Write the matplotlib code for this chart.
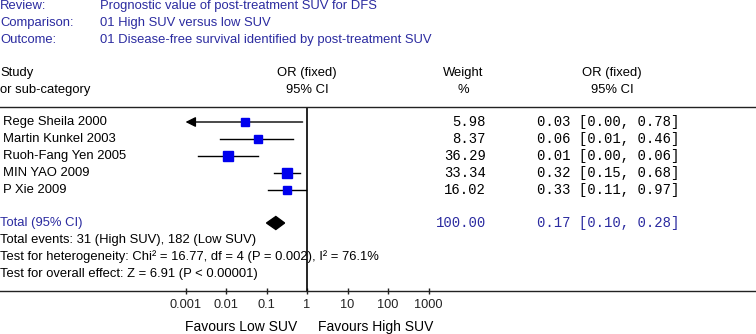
import numpy as np
import matplotlib
matplotlib.use("Agg")
import matplotlib.pyplot as plt
from matplotlib.patches import Polygon

# ----------------------------
# data
# ----------------------------
studies = ["Rege Sheila 2000", "Martin Kunkel 2003", "Ruoh-Fang Yen 2005",
           "MIN YAO 2009", "P Xie 2009"]
or_est = [0.03, 0.06, 0.011, 0.32, 0.33]
ci_low = [0.0004, 0.007, 0.002, 0.15, 0.11]
ci_high = [0.78, 0.46, 0.06, 0.68, 0.97]
weights = [5.98, 8.37, 36.29, 33.34, 16.02]
or_labels = ["0.03 [0.00, 0.78]", "0.06 [0.01, 0.46]", "0.01 [0.00, 0.06]",
             "0.32 [0.15, 0.68]", "0.33 [0.11, 0.97]"]

total_est, total_low, total_high = 0.17, 0.10, 0.28
total_weight = "100.00"
total_label = "0.17 [0.10, 0.28]"

ticks = [0.001, 0.01, 0.1, 1, 10, 100, 1000]
tick_labels = ["0.001", "0.01", "0.1", "1", "10", "100", "1000"]

header = [("Review:", "Prognostic value of post-treatment SUV for DFS"),
          ("Comparison:", "01 High SUV versus low SUV"),
          ("Outcome:", "01 Disease-free survival identified by post-treatment SUV")]
footer = ["Total events: 31 (High SUV), 182 (Low SUV)",
          "Test for heterogeneity: Chi\u00b2 = 16.77, df = 4 (P = 0.002), I\u00b2 = 76.1%",
          "Test for overall effect: Z = 6.91 (P < 0.00001)"]

# ----------------------------
# layout (pixels)
# ----------------------------
W, H = 756, 334
X_ONE = 307.0       # pixel of OR = 1
DECADE = 40.5       # pixels per decade
TOP_LINE, AXIS_LINE = 107, 291
ROW0, ROW_STEP = 122, 17
TOTAL_Y = 223
BLUE_TXT = "#2b2ba0"
SANS = "Liberation Sans"
MONO = "Liberation Mono"
FS = 9.4

fig = plt.figure(figsize=(W / 100, H / 100), dpi=100)

# forest axes covering full width, log x scale
ax = fig.add_axes([0, (H - AXIS_LINE) / H, 1, (AXIS_LINE - TOP_LINE) / H])
ax.set_xscale("log")
ax.set_xlim(10 ** ((0 - X_ONE) / DECADE), 10 ** ((W - X_ONE) / DECADE))
ax.set_ylim(AXIS_LINE, TOP_LINE)
ax.patch.set_visible(False)
for s in ["left", "right"]:
    ax.spines[s].set_visible(False)
for s in ["top", "bottom"]:
    ax.spines[s].set_linewidth(1.0)
    ax.spines[s].set_color("#222222")
ax.set_yticks([])
ax.set_xticks(ticks)
ax.set_xticklabels(tick_labels, fontsize=9.2, family=SANS)
ax.xaxis.set_minor_locator(matplotlib.ticker.NullLocator())
ax.tick_params(axis="x", direction="inout", length=5, width=1, pad=3,
               colors="#222222")

ax.axvline(1, color="black", lw=1.2)

xmin = min(ticks)
for i in range(len(studies)):
    y = ROW0 + ROW_STEP * i
    lo = ci_low[i]
    if lo < xmin:
        ax.annotate("", xy=(xmin, y), xytext=(ci_high[i], y),
                    arrowprops=dict(arrowstyle="-|>", color="black", lw=1,
                                    mutation_scale=15, shrinkA=0, shrinkB=0))
    else:
        ax.plot([lo, ci_high[i]], [y, y], color="black", lw=1)
    side = 6.5 + weights[i] * 0.1
    ax.plot([or_est[i]], [y], marker="s", ms=side * 0.72, color="#0000ee",
            mec="#0000ee", zorder=3)

d = 6.5
ax.add_patch(Polygon([(total_low, TOTAL_Y), (total_est, TOTAL_Y - d),
                      (total_high, TOTAL_Y), (total_est, TOTAL_Y + d)],
                     closed=True, color="black", zorder=3))

# text overlay in pixel coordinates
tx = fig.add_axes([0, 0, 1, 1])
tx.set_xlim(0, W)
tx.set_ylim(H, 0)
tx.axis("off")
tx.patch.set_visible(False)

for k, (lab, val) in enumerate(header):
    y = 6 + 17 * k
    tx.text(0, y, lab, color=BLUE_TXT, fontsize=FS, family=SANS, va="center")
    tx.text(100, y, val, color=BLUE_TXT, fontsize=FS, family=SANS, va="center")

tx.text(0, 73, "Study", fontsize=FS, family=SANS, va="center")
tx.text(0, 90, "or sub-category", fontsize=FS, family=SANS, va="center")
for x, a, b in [(X_ONE, "OR (fixed)", "95% CI"), (463, "Weight", "%"),
                (612, "OR (fixed)", "95% CI")]:
    tx.text(x, 73, a, fontsize=FS, family=SANS, va="center", ha="center")
    tx.text(x, 90, b, fontsize=FS, family=SANS, va="center", ha="center")

for i in range(len(studies)):
    y = ROW0 + ROW_STEP * i
    tx.text(3, y, studies[i], fontsize=FS, family=SANS, va="center")
    tx.text(486, y, f"{weights[i]:.2f}", fontsize=10, family=MONO,
            va="center", ha="right")
    tx.text(537, y, or_labels[i], fontsize=10, family=MONO, va="center")

tx.text(0, TOTAL_Y, "Total (95% CI)", color=BLUE_TXT, fontsize=FS,
        family=SANS, va="center")
tx.text(486, TOTAL_Y, total_weight, color=BLUE_TXT, fontsize=10,
        family=MONO, va="center", ha="right")
tx.text(537, TOTAL_Y, total_label, color=BLUE_TXT, fontsize=10,
        family=MONO, va="center")

for k, line in enumerate(footer):
    tx.text(0, 240 + 17 * k, line, fontsize=FS, family=SANS, va="center")

tx.text(297, 327, "Favours Low SUV", fontsize=10, family=SANS,
        va="center", ha="right")
tx.text(318, 327, "Favours High SUV", fontsize=10, family=SANS,
        va="center", ha="left")

fig.savefig("out.png", dpi=100)
